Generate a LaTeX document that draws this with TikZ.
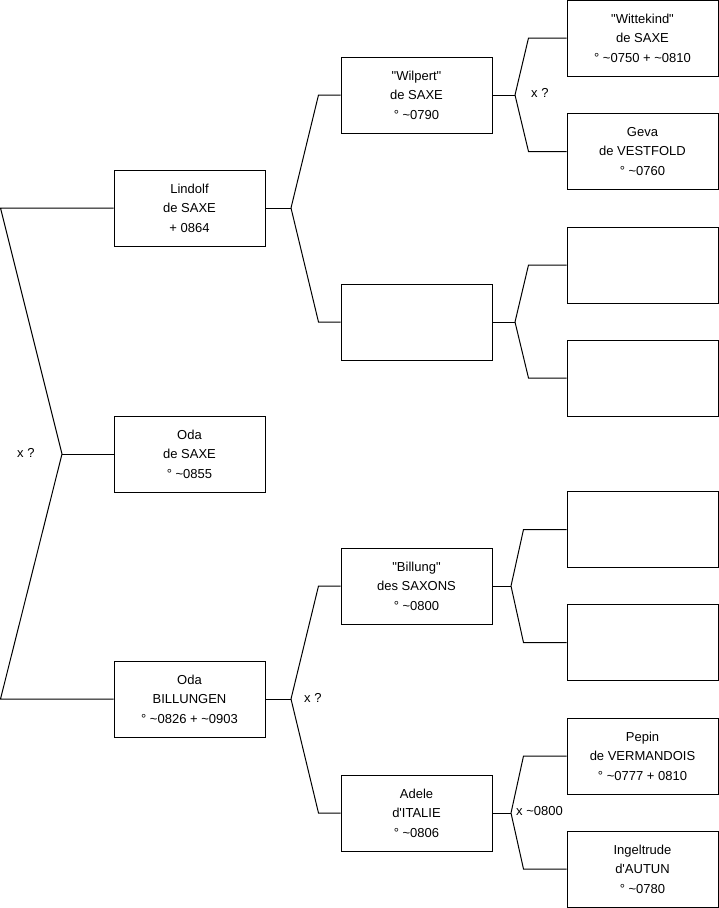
\documentclass[tikz,border=0pt]{standalone}
\usepackage{fontspec}
\newfontfamily\arial{Liberation Sans}
\newcommand{\tl}{\textasciitilde}
\begin{document}
\begin{tikzpicture}[x=1pt,y=-1pt,
  person/.style={draw=black,line width=1pt,minimum width=151pt,minimum height=76pt,
    inner sep=0pt,align=center,font=\arial\fontsize{13}{19.5}\selectfont},
  lbl/.style={anchor=west,inner sep=0pt,font=\arial\fontsize{13}{15}\selectfont},
  link/.style={draw=black,line width=1pt}]
\useasboundingbox (0,0) rectangle (719,908);
% generation 1
\node[person] (lindolf) at (189.5,208) {Lindolf\\de SAXE\\+ 0864};
\node[person] (odasaxe) at (189.5,454) {Oda\\de SAXE\\° \tl0855};
\node[person] (odabill) at (189.5,699) {Oda\\BILLUNGEN\\° \tl0826 + \tl0903};
% generation 2
\node[person] (wilpert) at (416.5,95) {"Wilpert"\\de SAXE\\° \tl0790};
\node[person] (emid) at (416.5,322) {};
\node[person] (billung) at (416.5,586) {"Billung"\\des SAXONS\\° \tl0800};
\node[person] (adele) at (416.5,813) {Adele\\d'ITALIE\\° \tl0806};
% generation 3
\node[person] (wittekind) at (642.5,38) {"Wittekind"\\de SAXE\\° \tl0750 + \tl0810};
\node[person] (geva) at (642.5,151.5) {Geva\\de VESTFOLD\\° \tl0760};
\node[person] (e1) at (642.5,265) {};
\node[person] (e2) at (642.5,378) {};
\node[person] (e3) at (642.5,529.5) {};
\node[person] (e4) at (642.5,642.5) {};
\node[person] (pepin) at (642.5,756) {Pepin\\de VERMANDOIS\\° \tl0777 + 0810};
\node[person] (ingel) at (642.5,869) {Ingeltrude\\d'AUTUN\\° \tl0780};
% left bracket
\coordinate (l1) at (0.5,208);
\coordinate (l2) at (62,454);
\coordinate (l3) at (0.5,699);
\draw[link] (lindolf.west) -- (l1) -- (l2) -- (l3) -- (odabill.west);
\draw[link] (l2) -- (odasaxe.west);
\node[lbl] (x1) at (17,453) {x ?};
% Lindolf
\coordinate (j1) at (291,208);
\draw[link] (lindolf.east) -- (j1);
\draw[link] (j1) -- ([xshift=-22pt]wilpert.west) -- (wilpert.west);
\draw[link] (j1) -- ([xshift=-22pt]emid.west) -- (emid.west);
% Oda Billungen
\coordinate (j2) at (291,699);
\draw[link] (odabill.east) -- (j2);
\draw[link] (j2) -- ([xshift=-22pt]billung.west) -- (billung.west);
\draw[link] (j2) -- ([xshift=-22pt]adele.west) -- (adele.west);
\node[lbl] (x2) at (304,698) {x ?};
% Wilpert
\coordinate (j3) at (515,95);
\draw[link] (wilpert.east) -- (j3);
\draw[link] (j3) -- ([xshift=-38pt]wittekind.west) -- (wittekind.west);
\draw[link] (j3) -- ([xshift=-38pt]geva.west) -- (geva.west);
\node[lbl] (x3) at (531,93) {x ?};
% empty mid
\coordinate (j4) at (515,322);
\draw[link] (emid.east) -- (j4);
\draw[link] (j4) -- ([xshift=-38pt]e1.west) -- (e1.west);
\draw[link] (j4) -- ([xshift=-38pt]e2.west) -- (e2.west);
% Billung
\coordinate (j5) at (511,586);
\draw[link] (billung.east) -- (j5);
\draw[link] (j5) -- ([xshift=-43pt]e3.west) -- (e3.west);
\draw[link] (j5) -- ([xshift=-43pt]e4.west) -- (e4.west);
% Adele
\coordinate (j6) at (511,813);
\draw[link] (adele.east) -- (j6);
\draw[link] (j6) -- ([xshift=-43pt]pepin.west) -- (pepin.west);
\draw[link] (j6) -- ([xshift=-43pt]ingel.west) -- (ingel.west);
\node[lbl] (x4) at (516,811) {x \tl0800};
\end{tikzpicture}
\end{document}
